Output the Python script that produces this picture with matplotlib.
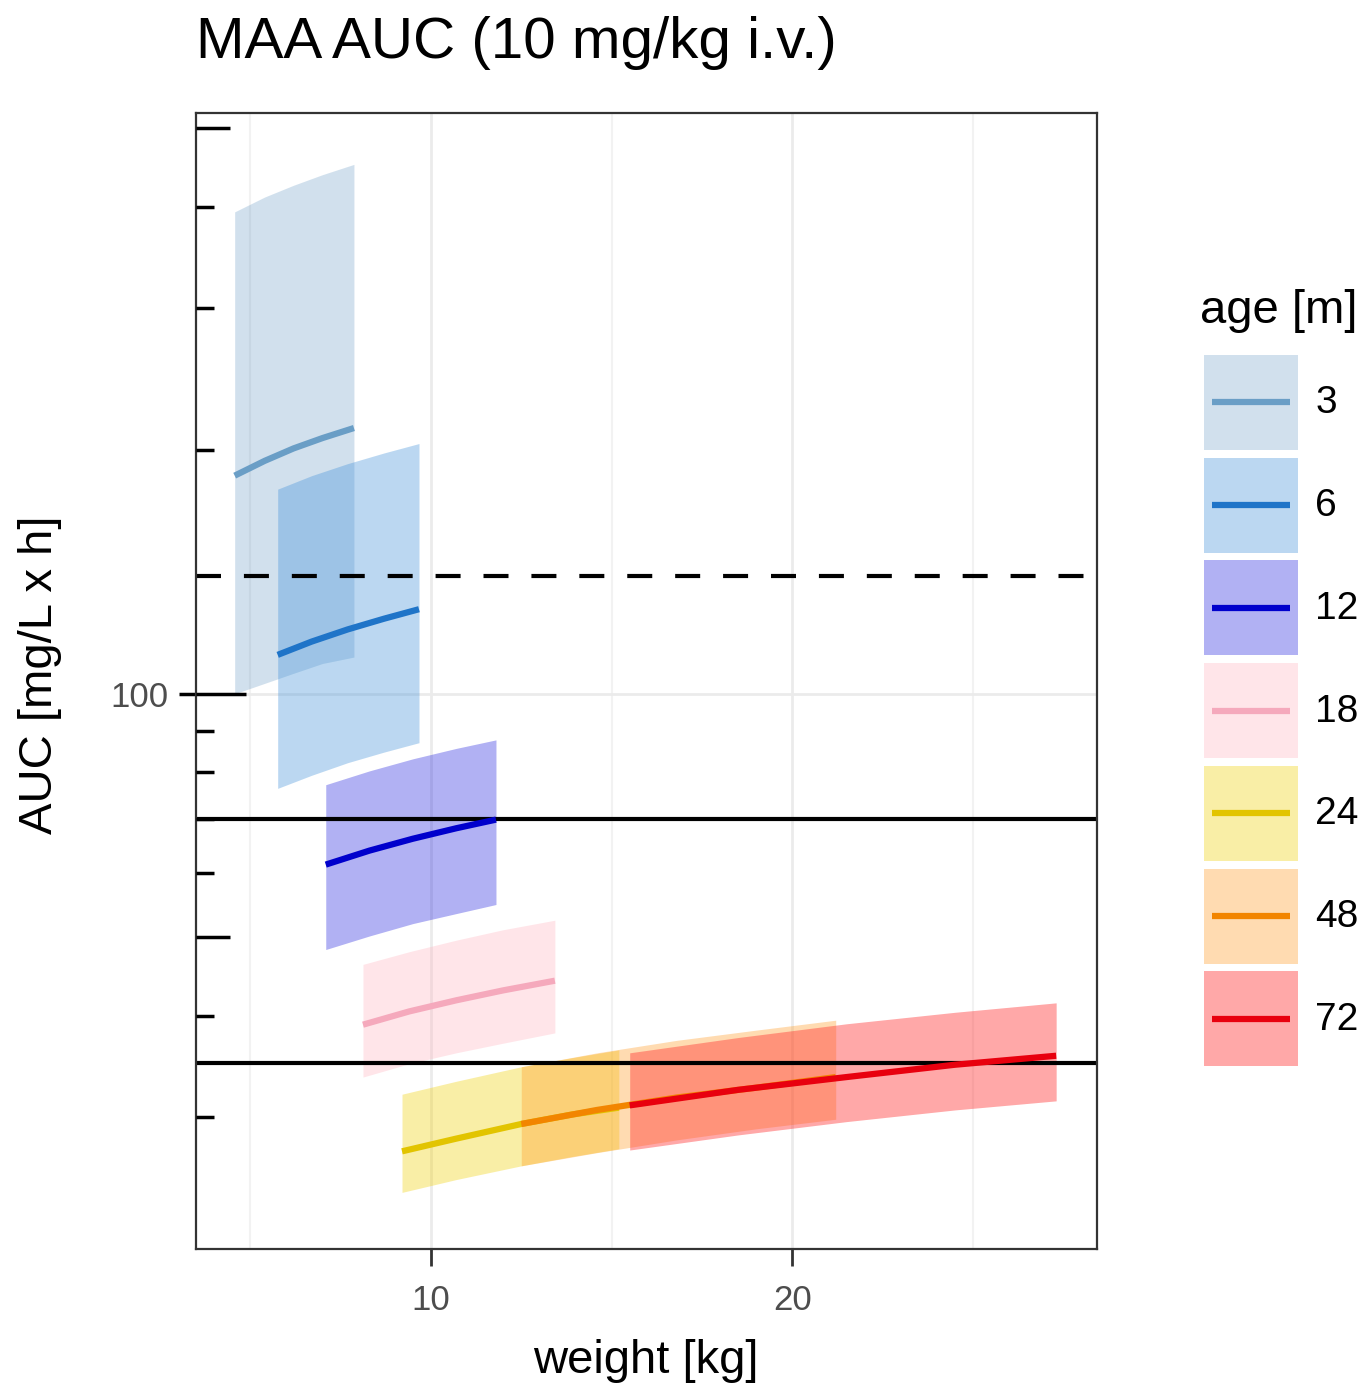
import numpy as np
import matplotlib
matplotlib.use("Agg")
import matplotlib.pyplot as plt
from matplotlib.patches import Patch
from matplotlib.lines import Line2D
from matplotlib.legend_handler import HandlerTuple, HandlerLine2D
import matplotlib.transforms as mtransforms
from matplotlib.ticker import NullLocator

plt.rcParams['font.family'] = ['Liberation Sans', 'DejaVu Sans']

# age groups [months]
ages = ['3', '6', '12', '18', '24', '48', '72']

# weight points and AUC percentiles (lo / median / hi) per age group
band_wt = [[4.57, 5.4, 6.2, 7.0, 7.87],
           [5.76, 6.7, 7.7, 8.7, 9.67],
           [7.09, 8.3, 9.5, 10.7, 11.8],
           [8.12, 9.4, 10.7, 12.0, 13.43],
           [9.2, 10.7, 12.5, 13.9, 15.2],
           [12.5, 14.6, 16.8, 19.0, 21.2],
           [15.5, 18.5, 21.5, 24.5, 27.3]]
band_lo = [[100, 103, 106, 109, 111],
           [76.4, 79.3, 82.2, 84.7, 87.0],
           [48.3, 50.2, 52.0, 53.5, 54.9],
           [33.6, 34.9, 36.0, 37.0, 38.1],
           [24.2, 25.1, 26.1, 26.8, 27.4],
           [26.1, 27.1, 28.1, 29.0, 29.8],
           [27.3, 28.5, 29.6, 30.6, 31.4]]
band_med = [[186, 194, 201, 207, 213],
            [111.7, 116.0, 120.1, 123.8, 127.2],
            [61.5, 64.0, 66.2, 68.2, 69.9],
            [39.0, 40.5, 41.8, 43.0, 44.2],
            [27.2, 28.2, 29.4, 30.2, 30.8],
            [29.4, 30.6, 31.7, 32.6, 33.6],
            [31.0, 32.4, 33.6, 34.8, 35.7]]
band_hi = [[394, 411, 425, 438, 451],
           [179, 186, 192.5, 198.4, 203.8],
           [77.2, 80.3, 83.1, 85.6, 87.7],
           [46.3, 48.0, 49.6, 51.1, 52.5],
           [32.0, 33.2, 34.6, 35.5, 36.3],
           [34.6, 36.0, 37.3, 38.4, 39.5],
           [36.0, 37.6, 39.1, 40.4, 41.5]]

line_colors = ['#6A9EC6', '#1F74C8', '#0000CC', '#F5A9BC', '#E2C400', '#F28500', '#E8000E']
fill_colors = ['#4A86B8', '#3D8FD9', '#2020DD', '#FFB6C1', '#F0D000', '#FF9A20', '#FF3030']
fill_alpha = [0.25, 0.35, 0.35, 0.35, 0.35, 0.35, 0.42]

# target lines
ref_dashed = 140
ref_solid = [70, 35]

# log tick marks drawn inside the panel
log_long = [100]
log_mid = [50, 500]
log_short = [30, 40, 60, 70, 80, 90, 200, 300, 400]


class CenteredLine(HandlerLine2D):
    # put the legend line in the middle of the key box
    def create_artists(self, legend, orig_handle, xdescent, ydescent,
                       width, height, fontsize, trans):
        arts = super().create_artists(legend, orig_handle, xdescent, ydescent,
                                      width, height, fontsize, trans)
        for a in arts:
            a.set_ydata(np.full(len(a.get_xdata()), height / 2 - ydescent))
        return arts


W, H = 1372, 1390
fig = plt.figure(figsize=(W / 100, H / 100), dpi=100)
ax = fig.add_axes([196 / W, 1 - 1249 / H, (1097 - 196) / W, (1249 - 113) / H])

for i in range(len(ages)):
    ax.fill_between(band_wt[i], band_lo[i], band_hi[i], color=fill_colors[i],
                    alpha=fill_alpha[i], lw=0, zorder=1)
for i in range(len(ages)):
    ax.plot(band_wt[i], band_med[i], color=line_colors[i], lw=4.5,
            solid_capstyle='butt', solid_joinstyle='round', zorder=3)

ax.axhline(ref_dashed, color='black', lw=3, linestyle=(0, (6, 5.5)), zorder=2)
for v in ref_solid:
    ax.axhline(v, color='black', lw=3, zorder=2)

ax.set_yscale('log')
ax.set_xlim(3.5, 28.43)
ax.set_ylim(20.6, 522)

ax.set_xticks([10, 20])
ax.set_xticks([5, 15, 25], minor=True)
ax.set_yticks([100])
ax.set_yticklabels(['100'])
ax.yaxis.set_minor_locator(NullLocator())

ax.tick_params(axis='both', which='major', labelsize=25, labelcolor='#4D4D4D',
               color='#333333', length=12, width=2, pad=8)
ax.tick_params(axis='x', which='major', pad=13)
ax.tick_params(axis='x', which='minor', length=0)
ax.tick_params(axis='y', which='major', color='black', width=2.5)

ax.grid(True, which='major', color='#EBEBEB', lw=2, zorder=0)
ax.grid(True, which='minor', axis='x', color='#F2F2F2', lw=1.5, zorder=0)
ax.set_axisbelow(True)
for s in ax.spines.values():
    s.set_color('#333333')
    s.set_linewidth(1.6)

# annotation_logticks style marks
trans = mtransforms.blended_transform_factory(ax.transAxes, ax.transData)
for vals, ln in [(log_long, 50), (log_mid, 34), (log_short, 18)]:
    for v in vals:
        ax.plot([0, ln / 901], [v, v], color='black', lw=2.5, transform=trans,
                solid_capstyle='butt', zorder=4, clip_on=False)

fig.text(196 / W, 1 - 58 / H, 'MAA AUC (10 mg/kg i.v.)', fontsize=42,
         ha='left', va='baseline')
fig.text(646 / W, 1 - 1373 / H, 'weight [kg]', fontsize=34, ha='center', va='baseline')
fig.text(40 / W, 1 - 675 / H, 'AUC [mg/L x h]', fontsize=34, rotation=90,
         ha='center', va='center')

# legend
fig.text(1200 / W, 1 - 323 / H, 'age [m]', fontsize=34, ha='left', va='baseline')
handles = []
for i in range(len(ages)):
    p = Patch(facecolor=fill_colors[i], alpha=fill_alpha[i], edgecolor='none')
    l = Line2D([], [], color=line_colors[i], lw=4.5, solid_capstyle='butt')
    handles.append((p, l))
leg = fig.legend(handles, ages,
                 handler_map={tuple: HandlerTuple(ndivide=1),
                              Line2D: CenteredLine(marker_pad=0.2, numpoints=2)},
                 loc='upper left', bbox_to_anchor=(1204 / W, 1 - 355 / H),
                 frameon=False, fontsize=28,
                 handlelength=2.42, handleheight=3.38, labelspacing=0.2,
                 handletextpad=0.44, borderpad=0, borderaxespad=0)

fig.savefig('out.png', dpi=100, facecolor='white')
